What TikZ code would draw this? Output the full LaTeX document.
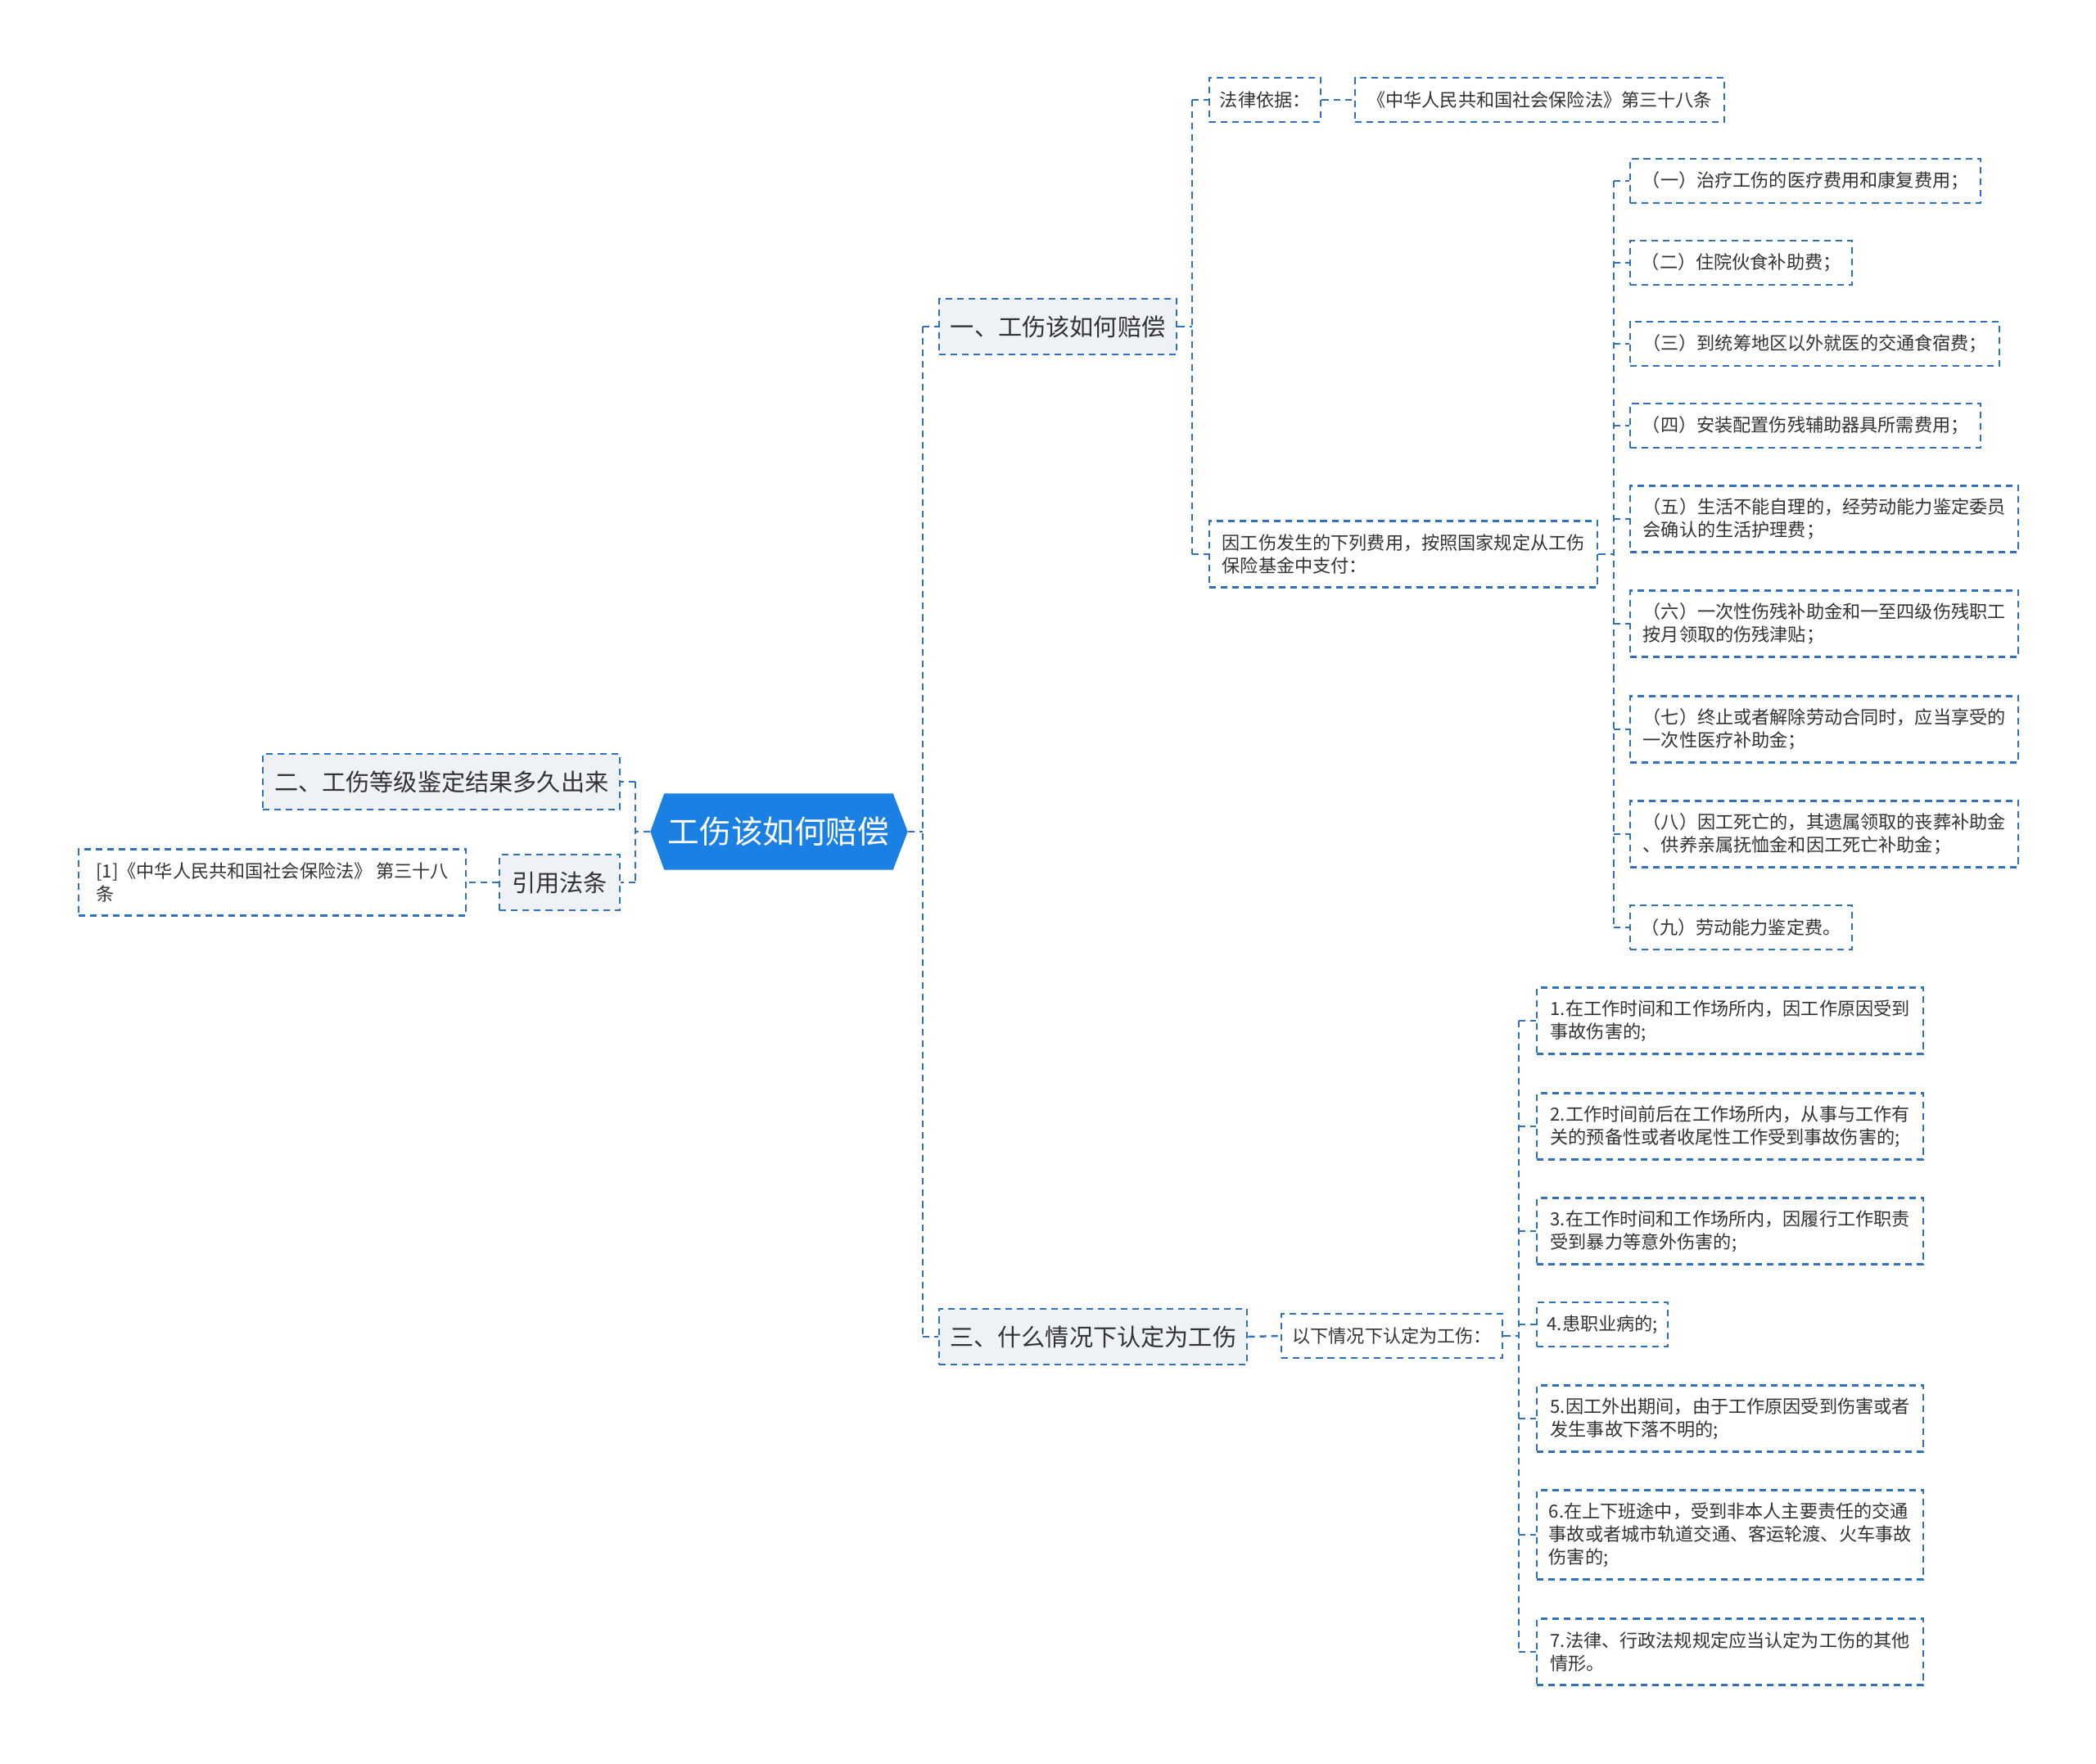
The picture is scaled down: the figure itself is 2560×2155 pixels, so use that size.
\documentclass[tikz,border=0pt]{standalone}
\usepackage{fontspec}
\setmainfont{Noto Sans CJK SC}
\usepackage{xcolor}
\usetikzlibrary{positioning, calc, backgrounds}

\definecolor{rootblue}{HTML}{1A80E4}
\definecolor{linkblue}{HTML}{2F72B9}
\definecolor{boxgray}{HTML}{EEF1F6}
\definecolor{textgray}{HTML}{333333}

\tikzset{
  link/.style={draw=linkblue, line width=0.7pt, dash pattern=on 2.3pt off 1.7pt},
  topic/.style={link, fill=boxgray, text=textgray, anchor=west, inner sep=0pt,
    minimum height=6.8mm, font=\fontsize{8.3}{10}\selectfont},
  leaf/.style={link, fill=white, text=textgray, anchor=west, inner sep=0pt,
    minimum height=5.4mm, align=left, font=\fontsize{6.3}{7.9}\selectfont},
  twoline/.style={minimum height=8.1mm},
  threeline/.style={minimum height=10.9mm},
  rootnode/.style={text=white, inner sep=0pt, minimum width=27.8mm,
    minimum height=9.2mm, font=\fontsize{11}{13}\selectfont}
}

\begin{document}
\begin{tikzpicture}[x=0.1mm, y=-0.1mm]
    \useasboundingbox (0,0) rectangle (2560,2155);

    % Root topic
    \node[rootnode] (root) at (951,1016) {工伤该如何赔偿};
    \begin{scope}[on background layer]
        \fill[rootblue] ([xshift=-1.7mm]root.west) -- (root.north west) -- (root.north east)
            -- ([xshift=1.8mm]root.east) -- (root.south east) -- (root.south west) -- cycle;
    \end{scope}

    % Trunk x positions
    \coordinate (trL) at (776,0);
    \coordinate (trR) at (1127,0);
    \coordinate (trYi) at (1456,0);
    \coordinate (trFee) at (1971,0);
    \coordinate (trSan) at (1855,0);

    % Left side
    \node[topic, minimum width=43.6mm] (er) at (320,955) {二、工伤等级鉴定结果多久出来};
    \node[topic, minimum width=14.7mm] (yin) at (609,1078) {引用法条};
    \node[leaf, twoline, minimum width=47.3mm] (ref) at (95,1078) {[1]《中华人民共和国社会保险法》 第三十八\\条};

    % Right side, main branches
    \node[topic, minimum width=29.0mm] (yi) at (1146,399) {一、工伤该如何赔偿};
    \node[topic, minimum width=37.6mm] (san) at (1146,1633) {三、什么情况下认定为工伤};

    % Branch one
    \node[leaf, minimum width=13.6mm] (fa) at (1476,122) {法律依据：};
    \node[leaf, minimum width=45.1mm] (law) at (1654,122) {《中华人民共和国社会保险法》第三十八条};
    \node[leaf, twoline, minimum width=47.4mm] (fee) at (1476,677) {因工伤发生的下列费用，按照国家规定从工伤\\保险基金中支付：};

    % Fee items
    \node[leaf, minimum width=42.8mm] (c1) at (1990,221) {（一）治疗工伤的医疗费用和康复费用；};
    \node[leaf, minimum width=27.1mm] (c2) at (1990,321) {（二）住院伙食补助费；};
    \node[leaf, minimum width=45.1mm] (c3) at (1990,420) {（三）到统筹地区以外就医的交通食宿费；};
    \node[leaf, minimum width=42.8mm] (c4) at (1990,520) {（四）安装配置伤残辅助器具所需费用；};
    \node[leaf, twoline, minimum width=47.4mm] (c5) at (1990,634) {（五）生活不能自理的，经劳动能力鉴定委员\\会确认的生活护理费；};
    \node[leaf, twoline, minimum width=47.4mm] (c6) at (1990,762) {（六）一次性伤残补助金和一至四级伤残职工\\按月领取的伤残津贴；};
    \node[leaf, twoline, minimum width=47.4mm] (c7) at (1990,891) {（七）终止或者解除劳动合同时，应当享受的\\一次性医疗补助金；};
    \node[leaf, twoline, minimum width=47.4mm] (c8) at (1990,1019) {（八）因工死亡的，其遗属领取的丧葬补助金\\、供养亲属抚恤金和因工死亡补助金；};
    \node[leaf, minimum width=27.1mm] (c9) at (1990,1133) {（九）劳动能力鉴定费。};

    % Branch three
    \node[leaf, minimum width=27.0mm] (yx) at (1564,1632) {以下情况下认定为工伤：};
    \node[leaf, twoline, minimum width=47.2mm] (n1) at (1876,1247) {1.在工作时间和工作场所内，因工作原因受到\\事故伤害的;};
    \node[leaf, twoline, minimum width=47.2mm] (n2) at (1876,1376) {2.工作时间前后在工作场所内，从事与工作有\\关的预备性或者收尾性工作受到事故伤害的;};
    \node[leaf, twoline, minimum width=47.2mm] (n3) at (1876,1504) {3.在工作时间和工作场所内，因履行工作职责\\受到暴力等意外伤害的;};
    \node[leaf, minimum width=16.0mm] (n4) at (1876,1618) {4.患职业病的;};
    \node[leaf, twoline, minimum width=47.2mm] (n5) at (1876,1733) {5.因工外出期间，由于工作原因受到伤害或者\\发生事故下落不明的;};
    \node[leaf, threeline, minimum width=47.2mm] (n6) at (1876,1875) {6.在上下班途中，受到非本人主要责任的交通\\事故或者城市轨道交通、客运轮渡、火车事故\\伤害的;};
    \node[leaf, twoline, minimum width=47.2mm] (n7) at (1876,2018) {7.法律、行政法规规定应当认定为工伤的其他\\情形。};

    % Connectors: root to left
    \draw[link] ([xshift=-1.7mm]root.west) -- (trL |- root.west);
    \draw[link] (trL |- er.east) -- (trL |- yin.east);
    \foreach \n in {er, yin} {
        \draw[link] (trL |- \n.east) -- (\n.east);
    }
    \draw[link] (yin.west) -- (ref.east);

    % Connectors: root to right
    \draw[link] ([xshift=1.8mm]root.east) -- (trR |- root.east);
    \draw[link] (trR |- yi.west) -- (trR |- san.west);
    \foreach \n in {yi, san} {
        \draw[link] (trR |- \n.west) -- (\n.west);
    }

    % Connectors: branch one
    \draw[link] (yi.east) -- (trYi |- yi.east);
    \draw[link] (trYi |- fa.west) -- (trYi |- fee.west);
    \foreach \n in {fa, fee} {
        \draw[link] (trYi |- \n.west) -- (\n.west);
    }
    \draw[link] (fa.east) -- (law.west);

    % Connectors: fee items
    \draw[link] (fee.east) -- (trFee |- fee.east);
    \draw[link] (trFee |- c1.west) -- (trFee |- c9.west);
    \foreach \n in {c1, c2, c3, c4, c5, c6, c7, c8, c9} {
        \draw[link] (trFee |- \n.west) -- (\n.west);
    }

    % Connectors: branch three
    \draw[link] (san.east) -- (yx.west);
    \draw[link] (yx.east) -- (trSan |- yx.east);
    \draw[link] (trSan |- n1.west) -- (trSan |- n7.west);
    \foreach \n in {n1, n2, n3, n4, n5, n6, n7} {
        \draw[link] (trSan |- \n.west) -- (\n.west);
    }

\end{tikzpicture}
\end{document}
